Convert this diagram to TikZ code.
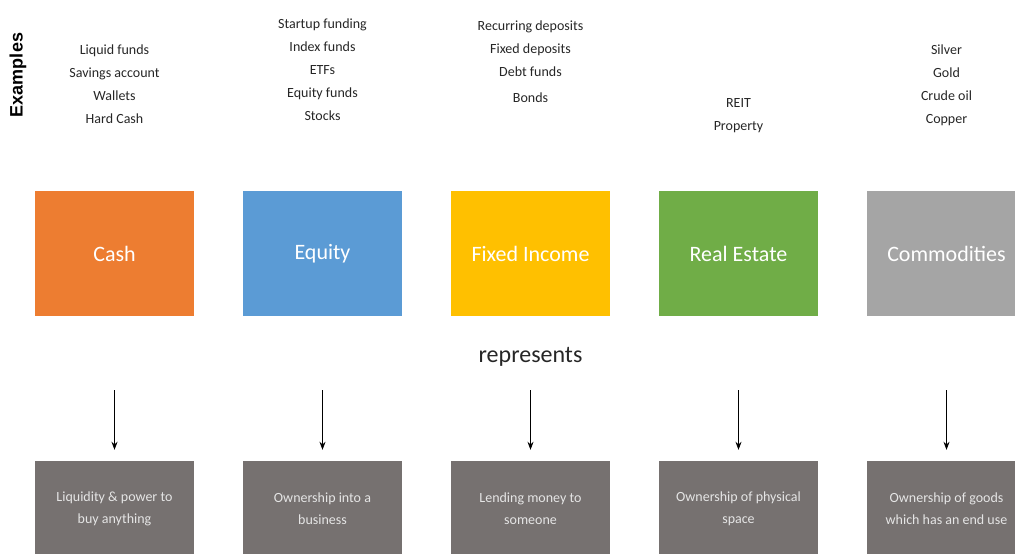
\documentclass[tikz,border=0pt]{standalone}
\usepackage{fontspec}
\setmainfont{Carlito}
\setsansfont{Liberation Sans}
\usetikzlibrary{arrows.meta, positioning}

\definecolor{cashorange}{HTML}{ED7D31}
\definecolor{equityblue}{HTML}{5B9BD5}
\definecolor{incomeyellow}{HTML}{FFC000}
\definecolor{estategreen}{HTML}{70AD47}
\definecolor{goodsgray}{HTML}{A5A5A5}
\definecolor{meangray}{HTML}{767170}

\begin{document}
\begin{tikzpicture}[x=1pt, y=-1pt,
        asset/.style={minimum width=159pt, minimum height=125pt, inner sep=0pt, text=white, font=\fontsize{22}{26}\selectfont},
        meaning/.style={fill=meangray, minimum width=159pt, minimum height=96pt, inner sep=0pt, align=center, text=white!90!black, font=\fontsize{14}{22}\selectfont},
        example/.style={align=center, text=black!85, font=\fontsize{14}{23}\selectfont},
        arr/.style={thick, -{Stealth[length=8pt, width=6pt]}, shorten >=11pt}]
        \useasboundingbox (0,0) rectangle (1015,554);
        \clip (0,0) rectangle (1015,554);

        % Side label
        \node[rotate=90, font=\sffamily\bfseries\fontsize{18}{20}\selectfont] (ex) at (18,75) {Examples};

        % Examples
        \node[example] (e1) at (114.5,84.5) {Liquid funds\\Savings account\\Wallets\\Hard Cash};
        \node[example] (e2) at (322.5,70) {Startup funding\\Index funds\\ETFs\\Equity funds\\Stocks};
        \node[example] (e3) at (530.5,61.5) {Recurring deposits\\Fixed deposits\\Debt funds\\[3pt]Bonds};
        \node[example] (e4) at (738.5,116) {REIT\\Property};
        \node[example] (e5) at (946.5,85.5) {Silver\\Gold\\Crude oil\\Copper};

        % Asset classes
        \node[asset, fill=cashorange] (a1) at (114.5,253.5) {Cash};
        \node[asset, fill=equityblue] (a2) at (322.5,253.5) {Equity};
        \node[asset, fill=incomeyellow] (a3) at (530.5,253.5) {Fixed Income};
        \node[asset, fill=estategreen] (a4) at (738.5,253.5) {Real Estate};
        \node[asset, fill=goodsgray] (a5) at (946.5,253.5) {Commodities};

        \node[font=\fontsize{24}{28}\selectfont, text=black!85] (rep) at (530.5,357) {represents};

        % What each one stands for
        \node[meaning] (m1) at (114.5,509) {Liquidity \& power to\\buy anything};
        \node[meaning] (m2) at (322.5,509) {Ownership into a\\business};
        \node[meaning] (m3) at (530.5,509) {Lending money to\\someone};
        \node[meaning] (m4) at (738.5,509) {Ownership of physical\\space};
        \node[meaning] (m5) at (946.5,509) {Ownership of goods\\which has an end use};

        % Arrows
        \coordinate (s1) at (114.5,390);
        \coordinate (s2) at (322.5,390);
        \coordinate (s3) at (530.5,390);
        \coordinate (s4) at (738.5,390);
        \coordinate (s5) at (946.5,390);
        \draw[arr] (s1) -- (m1.north);
        \draw[arr] (s2) -- (m2.north);
        \draw[arr] (s3) -- (m3.north);
        \draw[arr] (s4) -- (m4.north);
        \draw[arr] (s5) -- (m5.north);
\end{tikzpicture}
\end{document}
